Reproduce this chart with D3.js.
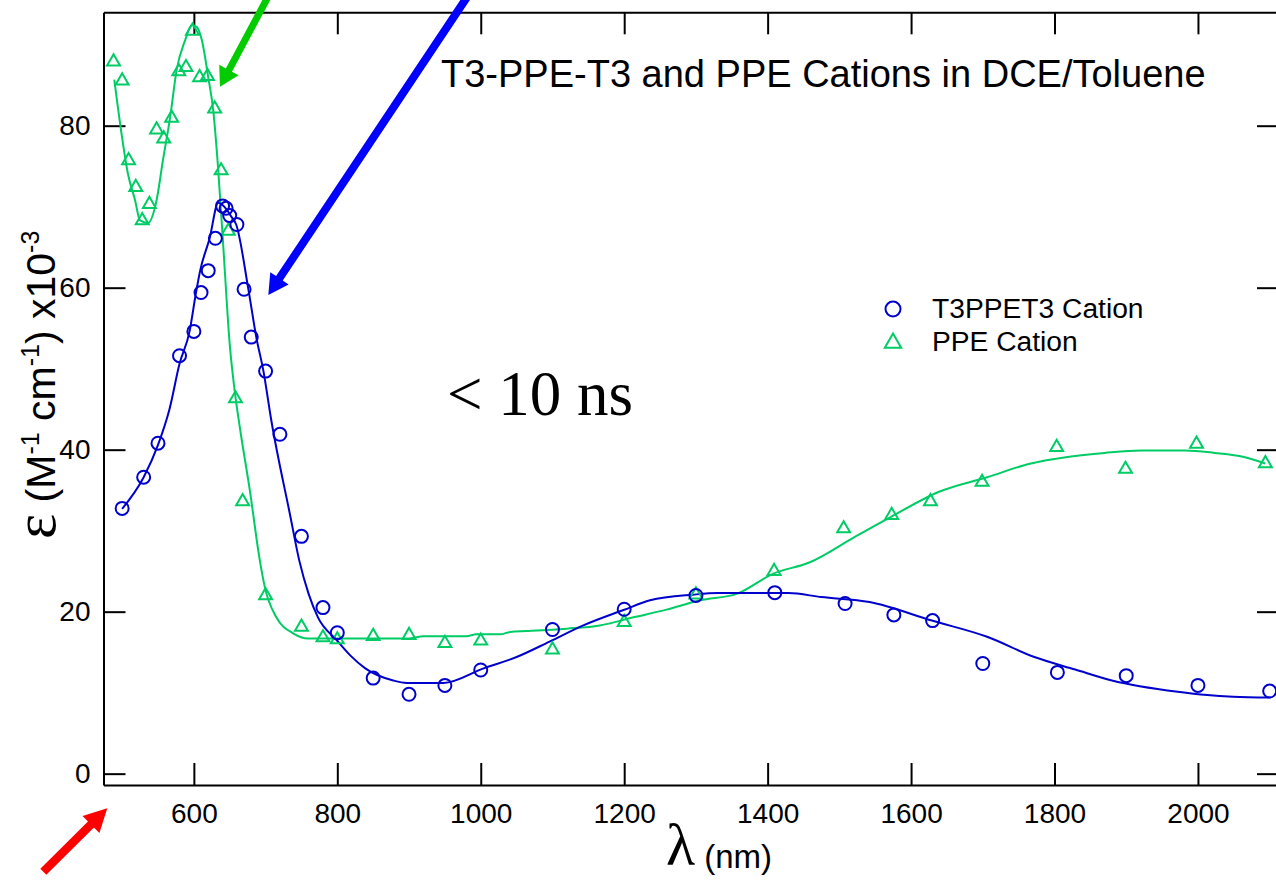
<!DOCTYPE html>
<html><head><meta charset="utf-8">
<script src="https://cdn.jsdelivr.net/npm/d3@7"></script>
<style>
html,body{margin:0;padding:0;background:#fff;}
svg{display:block;}
</style></head>
<body>
<svg id="chart" width="1276" height="880"></svg>
<script>
// ---------- data ----------
const xTicks = [600, 800, 1000, 1200, 1400, 1600, 1800, 2000];
const yTicks = [0, 20, 40, 60, 80];

// T3PPET3 cation (circles)
const t3Wave = [500,530,550,580,600,610,620,630,640,645,650,660,670,680,700,720,750,780,800,850,900,950,1000,1100,1200,1300,1410,1508,1576,1630,1700,1804,1900,2000,2100];
const t3Eps  = [32.75,36.6,40.8,51.6,54.6,59.4,62.1,66.1,70.1,69.8,68.9,67.8,59.8,53.9,49.7,41.9,29.3,20.5,17.4,11.8,9.8,10.9,12.8,17.8,20.3,22.0,22.35,21.0,19.6,18.9,13.6,12.5,12.1,10.9,10.2];

// PPE cation (triangles)
const ppeWave = [488,500,509,519,528,538,548,558,569,579,589,598,608,619,629,638,648,658,668,700,750,780,800,850,900,950,1000,1100,1200,1300,1409,1506,1573,1627,1699,1803,1899,1998,2094];
const ppeEps  = [87.9,85.55,75.7,72.4,68.3,70.3,79.5,78.4,80.95,86.7,87.2,91.7,85.95,86.1,82.1,74.45,67.0,46.3,33.6,22.0,18.1,16.8,16.55,16.96,17.1,16.1,16.4,15.3,18.7,22.1,25.0,30.25,31.9,33.6,36.0,40.3,37.6,40.7,38.3];

// fitted curves
const t3FitWave = [500,530,550,566,580,594,603,609,622,634,640,646,652,659,676,687,697,708,734,747,760,773,799,818,839,878,897,948,1004,1050,1096,1143,1199,1236,1296,1331,1375,1429,1475,1542,1629,1706,1772,1829,1880,1972,2013,2049,2100];
const t3FitEps  = [32.7,36.6,40.6,45.0,50.6,54.6,59.4,62.2,66.1,70.5,70.2,69.6,68.8,67.8,59.8,53.9,49.7,43.6,32.0,26.3,22.2,19.3,16.5,14.6,13.0,11.5,11.2,11.2,13.0,14.4,16.3,18.3,20.2,21.4,22.1,22.3,22.3,22.3,21.8,21.2,18.9,16.9,14.4,12.85,11.5,10.1,9.7,9.5,9.4];

const ppeFitWave = [489,499,508,518,525,536,548,557,567,576,588,597,604,611,620,627,634,641,650,657,664,678,692,699,715,739,759,794,901,920,980,994,1027,1041,1064,1120,1166,1213,1259,1306,1357,1408,1459,1521,1572,1639,1706,1767,1818,1870,1921,1982,2023,2064,2094];
const ppeFitEps  = [85.7,79.1,74.1,70.8,68.3,68.0,70.8,75.8,81.1,86.9,90.6,92.4,92.2,90.6,86.0,81.9,74.5,65.1,53.0,47.2,42.8,35.0,26.3,23.0,19.3,17.3,16.7,16.7,16.7,16.96,16.96,17.2,17.2,17.5,17.6,17.9,18.3,19.3,20.25,21.4,22.2,24.7,26.1,29.2,31.7,34.8,36.6,38.3,39.1,39.6,39.9,39.9,39.6,39.1,38.3];

// annotation arrows in data units: [tailX, tailY, tipX, tipY]
const greenArrow = [703.4, 95.9, 636.4, 84.8];
const blueArrow  = [982.6, 96.1, 703.8, 59.1];
const redArrow   = [390.1, -12.1, 479.3, -4.28];

// ---------- layout ----------
const svg = d3.select("#chart");
const xs = d3.scaleLinear().domain([474, 2113]).range([103.5, 1279]);
const ys = d3.scaleLinear().domain([-1.4, 94]).range([785, 12.3]);
const SANS = "'Liberation Sans', Arial, sans-serif";
const SERIF = "'Liberation Serif', 'Times New Roman', serif";
const blue = "#0000cc", green = "#00cc66";

// axes
function styleAxis(g){
  g.selectAll("path.domain").attr("stroke","#000").attr("stroke-width",2);
  g.selectAll(".tick line").attr("stroke","#000").attr("stroke-width",2);
  g.selectAll(".tick text").attr("font-family",SANS).attr("font-size",28).attr("fill","#000");
}
svg.append("g").attr("transform","translate(0,785)")
  .call(d3.axisBottom(xs).tickValues(xTicks).tickSize(-22).tickSizeOuter(0).tickPadding(18).tickFormat(d3.format("d")))
  .call(styleAxis);
svg.append("g").attr("transform","translate(0,12.3)")
  .call(d3.axisTop(xs).tickValues(xTicks).tickSize(-22).tickSizeOuter(0).tickFormat(""))
  .call(styleAxis);
svg.append("g").attr("transform","translate(103.5,0)")
  .call(d3.axisLeft(ys).tickValues(yTicks).tickSize(-22).tickSizeOuter(0).tickPadding(13).tickFormat(d3.format("d")))
  .call(styleAxis);
svg.append("g").attr("transform","translate(1279,0)")
  .call(d3.axisRight(ys).tickValues(yTicks).tickSize(-22).tickSizeOuter(0).tickFormat(""))
  .call(styleAxis);
svg.selectAll("g text").attr("font-family",SANS);

// fitted lines
const line = d3.line().x(d=>xs(d[0])).y(d=>ys(d[1])).curve(d3.curveMonotoneX);
svg.append("path").datum(ppeFitWave.map((w,i)=>[w,ppeFitEps[i]]))
  .attr("d",line).attr("fill","none").attr("stroke",green).attr("stroke-width",2);
svg.append("path").datum(t3FitWave.map((w,i)=>[w,t3FitEps[i]]))
  .attr("d",line).attr("fill","none").attr("stroke",blue).attr("stroke-width",2);

// markers
const tri = d3.symbol().type(d3.symbolTriangle).size(72);
const triBig = d3.symbol().type(d3.symbolTriangle).size(115);
svg.append("g").selectAll("path").data(ppeWave.map((w,i)=>[w,ppeEps[i]])).join("path")
  .attr("d",tri).attr("transform",d=>`translate(${xs(d[0])},${ys(d[1])})`)
  .attr("fill","none").attr("stroke",green).attr("stroke-width",2);
svg.append("g").selectAll("circle").data(t3Wave.map((w,i)=>[w,t3Eps[i]])).join("circle")
  .attr("cx",d=>xs(d[0])).attr("cy",d=>ys(d[1])).attr("r",6.5)
  .attr("fill","none").attr("stroke",blue).attr("stroke-width",2);

// arrows
function arrow(a, color, w, L, H){
  const x0=xs(a[0]), y0=ys(a[1]), x1=xs(a[2]), y1=ys(a[3]);
  const dx=x1-x0, dy=y1-y0, len=Math.hypot(dx,dy);
  const ux=dx/len, uy=dy/len, nx=-uy, ny=ux;
  const bx=x1-ux*L, by=y1-uy*L;
  const pts=[[x0+nx*w/2,y0+ny*w/2],[bx+nx*w/2,by+ny*w/2],[bx+nx*H,by+ny*H],[x1,y1],
             [bx-nx*H,by-ny*H],[bx-nx*w/2,by-ny*w/2],[x0-nx*w/2,y0-ny*w/2]];
  svg.append("polygon").attr("points",pts.map(p=>p.join(",")).join(" ")).attr("fill",color);
}
arrow(greenArrow,"#00cc00",7,19,11);
arrow(blueArrow,"#0000ff",8,20,11);
arrow(redArrow,"#ff0000",8.5,23,12);

// title
svg.append("text").attr("x",441).attr("y",87).attr("font-family",SANS).attr("font-size",38)
  .text("T3-PPE-T3 and PPE Cations in DCE/Toluene");

// legend
svg.append("circle").attr("cx",893).attr("cy",309).attr("r",7.5).attr("fill","none").attr("stroke",blue).attr("stroke-width",2);
svg.append("path").attr("d",triBig).attr("transform","translate(893,343)").attr("fill","none").attr("stroke",green).attr("stroke-width",2);
svg.append("text").attr("x",932).attr("y",318).attr("font-family",SANS).attr("font-size",28.2).text("T3PPET3 Cation");
svg.append("text").attr("x",932).attr("y",351).attr("font-family",SANS).attr("font-size",28.2).text("PPE Cation");

// < 10 ns
svg.append("text").attr("x",447).attr("y",415).attr("font-family",SERIF).attr("font-size",63).text("< 10 ns");

// y label
const yl = svg.append("text").attr("transform","translate(55,539) rotate(-90)").attr("font-family",SANS).attr("font-size",41);
yl.append("tspan").attr("font-family",SERIF).attr("font-size",60).text("ε");
yl.append("tspan").text(" (M");
yl.append("tspan").attr("font-size",25).attr("dy",-16).text("-1");
yl.append("tspan").attr("dy",16).text(" cm");
yl.append("tspan").attr("font-size",25).attr("dy",-16).text("-1");
yl.append("tspan").attr("dy",16).text(") x10");
yl.append("tspan").attr("font-size",25).attr("dy",-16).text("-3");

// x label
const xl = svg.append("text").attr("x",666).attr("y",865).attr("font-family",SANS).attr("font-size",33);
xl.append("tspan").attr("font-family",SERIF).attr("font-size",60).text("λ");
xl.append("tspan").attr("dy",3).text(" (nm)");
</script>
</body></html>
